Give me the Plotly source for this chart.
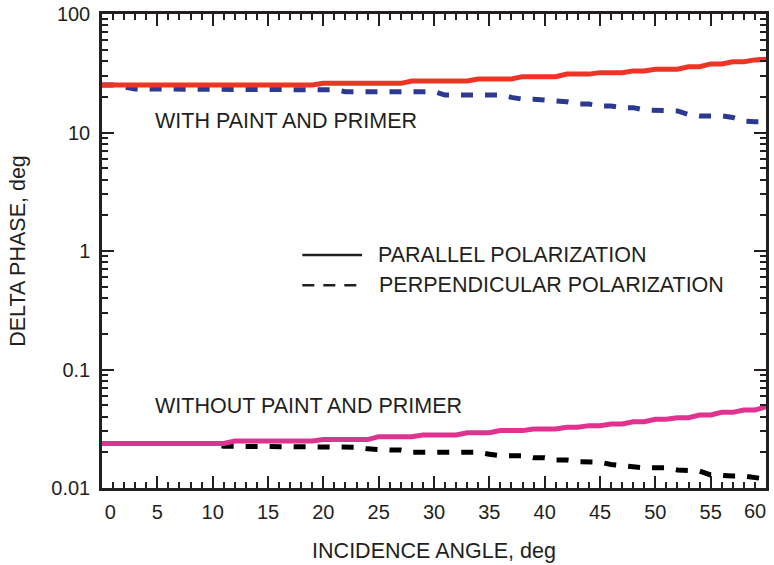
import math
import plotly.graph_objects as go

# incidence angle, deg
angle = list(range(0, 61))

# delta phase, deg - with paint and primer
parallel_paint = [
    25.2, 25.2, 25.2, 25.2, 25.2, 25.2, 25.2, 25.2, 25.2, 25.2,
    25.2, 25.2, 25.2, 25.2, 25.2, 25.2, 25.2, 25.2, 25.2, 25.2,
    26.0, 26.0, 26.0, 26.0, 26.0, 26.0, 26.0, 26.0, 27.2, 27.2,
    27.2, 27.2, 27.2, 27.2, 28.3, 28.3, 28.3, 28.3, 29.6, 29.6,
    29.6, 29.6, 31.1, 31.1, 31.1, 32.0, 32.0, 32.0, 33.1, 33.1,
    34.2, 34.2, 34.2, 35.9, 35.9, 37.9, 37.9, 39.5, 39.5, 41.0,
    41.5,
]
perp_paint = [
    25.2, 25.2, 24.2, 23.3, 23.3, 23.3, 23.3, 23.3, 23.3, 23.3,
    23.3, 23.3, 23.3, 23.3, 23.3, 23.3, 23.3, 22.9, 22.9, 22.9,
    22.9, 22.9, 22.1, 22.1, 22.1, 22.1, 22.1, 22.1, 22.1, 22.1,
    22.1, 20.7, 20.7, 20.7, 20.7, 20.7, 20.7, 19.8, 19.1, 19.1,
    18.8, 18.2, 18.2, 17.4, 17.4, 16.7, 16.7, 16.2, 16.2, 15.5,
    15.5, 15.4, 15.2, 14.2, 13.8, 13.8, 13.8, 13.4, 12.5, 12.3,
    12.3,
]

# delta phase, deg - without paint and primer
parallel_bare = [
    0.0238, 0.0238, 0.0238, 0.0238, 0.0238, 0.0238, 0.0238, 0.0238, 0.0238, 0.0238,
    0.0238, 0.0238, 0.0249, 0.0249, 0.0249, 0.0249, 0.0249, 0.0249, 0.0249, 0.0249,
    0.0256, 0.0256, 0.0256, 0.0256, 0.0256, 0.0271, 0.0271, 0.0271, 0.0271, 0.0280,
    0.0280, 0.0280, 0.0280, 0.0293, 0.0293, 0.0293, 0.0305, 0.0305, 0.0305, 0.0315,
    0.0315, 0.0315, 0.0325, 0.0325, 0.0336, 0.0336, 0.0347, 0.0347, 0.0362, 0.0362,
    0.0380, 0.0380, 0.0392, 0.0392, 0.0413, 0.0413, 0.0435, 0.0435, 0.0455, 0.0455,
    0.0485,
]
perp_bare = [
    0.0238, 0.0238, 0.0238, 0.0238, 0.0238, 0.0238, 0.0238, 0.0238, 0.0238, 0.0238,
    0.0238, 0.0225, 0.0225, 0.0225, 0.0225, 0.0225, 0.0225, 0.0221, 0.0221, 0.0221,
    0.0221, 0.0221, 0.0221, 0.0221, 0.0214, 0.0209, 0.0209, 0.0209, 0.0200, 0.0200,
    0.0200, 0.0200, 0.0200, 0.0200, 0.0200, 0.0193, 0.0187, 0.0187, 0.0187, 0.0180,
    0.0180, 0.0172, 0.0172, 0.0167, 0.0167, 0.0165, 0.0158, 0.0156, 0.0151, 0.0148,
    0.0148, 0.0148, 0.0142, 0.0142, 0.0139, 0.0129, 0.0126, 0.0126, 0.0126, 0.0121,
    0.0119,
]

x_ticks = list(range(0, 61, 5))
# first label nudged right as in the original; the last one is set as an
# annotation anchored on its right edge so it stays inside the page
x_tick_text = ["\u00a0\u00a0\u00a00"] + [str(v) for v in x_ticks[1:-1]] + [""]
y_ticks = [0.01, 0.1, 1, 10, 100]
y_tick_text = ["0.01", "0.1", "1", "10", "100"]
y_minor = [m * 10.0 ** k for k in range(-2, 2) for m in range(2, 10)]

INK = "#231F20"
FONT = "Arial, Liberation Sans, sans-serif"
TXT = 21.5

fig = go.Figure()

# lower pair (drawn first so the solid line sits on top)
fig.add_trace(go.Scatter(x=angle, y=perp_bare, mode="lines",
                         line=dict(color="#000000", width=5, dash="12px,12px")))
fig.add_trace(go.Scatter(x=angle, y=parallel_bare, mode="lines",
                         line=dict(color="#E0338F", width=5)))
# upper pair
fig.add_trace(go.Scatter(x=angle, y=perp_paint, mode="lines",
                         line=dict(color="#2B3990", width=5, dash="12px,12px")))
fig.add_trace(go.Scatter(x=angle, y=parallel_paint, mode="lines",
                         line=dict(color="#EE3424", width=5)))

# legend drawn by hand: black line samples + labels
fig.add_shape(type="line", xref="x", yref="paper", x0=18.1, x1=23.5, y0=0.4916, y1=0.4916,
              line=dict(color=INK, width=2.5))
fig.add_shape(type="line", xref="x", yref="paper", x0=18.1, x1=23.3, y0=0.428, y1=0.428,
              line=dict(color=INK, width=2.5, dash="12px,9px"))

notes = [
    (4.6, math.log10(12.5), "y", "WITH PAINT AND PRIMER"),
    (4.6, math.log10(0.0492), "y", "WITHOUT PAINT AND PRIMER"),
    (24.8, 0.4916, "paper", "PARALLEL POLARIZATION"),
    (24.85, 0.428, "paper", "PERPENDICULAR POLARIZATION"),
]
for nx, ny, yref, txt in notes:
    fig.add_annotation(x=nx, y=ny, xref="x", yref=yref, text=txt, showarrow=False,
                       xanchor="left", yanchor="middle",
                       font=dict(family=FONT, size=TXT, color=INK))

# last x tick label
fig.add_annotation(x=x_ticks[-1], y=0, xref="x", yref="paper", text=str(x_ticks[-1]),
                   showarrow=False, xanchor="right", yanchor="middle",
                   xshift=2, yshift=-23, font=dict(family=FONT, size=20, color=INK))

axis_common = dict(
    showline=True, linecolor=INK, linewidth=2.5, mirror="allticks",
    ticks="inside", ticklen=12, tickwidth=1.5, tickcolor=INK,
    showgrid=False, zeroline=False,
    tickfont=dict(family=FONT, size=20, color=INK),
)

fig.update_xaxes(
    range=[0, 60], tickvals=x_ticks, ticktext=x_tick_text,
    minor=dict(dtick=1, tick0=0, ticks="inside", ticklen=6, tickwidth=1.5, tickcolor=INK),
    ticklabelstandoff=4,
    title=dict(text="INCIDENCE ANGLE, deg", font=dict(family=FONT, size=TXT, color=INK), standoff=22),
    **axis_common,
)
fig.update_yaxes(
    type="log", range=[-2, 2], tickvals=y_ticks, ticktext=y_tick_text,
    minor=dict(tickmode="array", tickvals=y_minor, ticks="inside", ticklen=6,
               tickwidth=1.5, tickcolor=INK),
    ticklabelstandoff=5,
    title=dict(text="DELTA PHASE, deg", font=dict(family=FONT, size=TXT, color=INK), standoff=20),
    **axis_common,
)

fig.update_layout(
    width=774, height=565,
    margin=dict(l=102, r=8, t=14, b=77, autoexpand=False),
    plot_bgcolor="white", paper_bgcolor="white",
    showlegend=False,
)

# drop the default page margin so the figure sits at the window's corner
fig.write_html("out.html", config={"displayModeBar": False},
               post_script="document.body.style.margin='0px';")
